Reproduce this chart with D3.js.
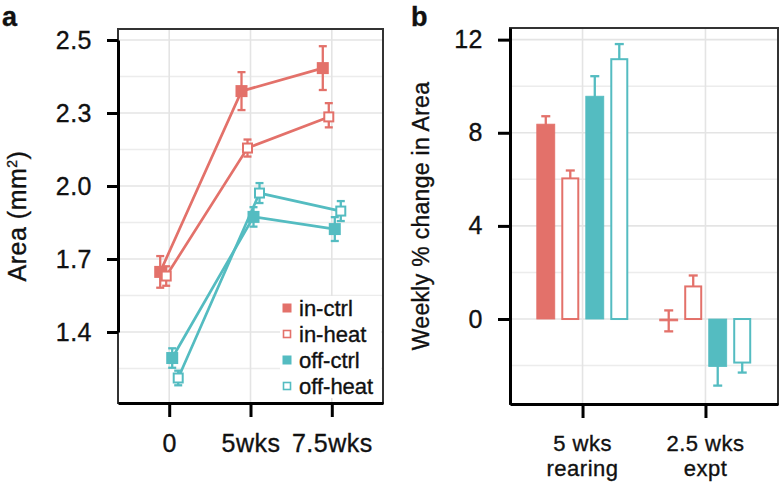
<!DOCTYPE html>
<html>
<head>
<meta charset="utf-8">
<script src="https://d3js.org/d3.v7.min.js"></script>
<style>
    body { margin: 0; background: #fff; }
    text { font-family: "Liberation Sans", Arial, sans-serif; fill: #111; stroke: #111; stroke-width: 0.35px; letter-spacing: 0.5px; }
</style>
</head>
<body>
<svg id="chart" width="783" height="485"></svg>
<script>
    // ---- panel a: mean area (mm2) with standard errors ----
    var timepoints = ["0", "5wks", "7.5wks"];
    var groups = ["in-ctrl", "in-heat", "off-ctrl", "off-heat"];
    var areaInCtrl   = [1.647, 2.360, 2.423];
    var areaInHeat   = [1.630, 2.156, 2.284];
    var areaOffCtrl  = [1.293, 1.873, 1.823];
    var areaOffHeat  = [1.211, 1.971, 1.897];
    var seInCtrl     = [0.065, 0.052, 0.060];
    var seInHeat     = [0.040, 0.035, 0.043];
    var seOffCtrl    = [0.040, 0.040, 0.049];
    var seOffHeat    = [0.030, 0.041, 0.041];
    var areaTicks = [1.4, 1.7, 2.0, 2.3, 2.5];

    // ---- panel b: weekly % change in area ----
    var periods = [["5 wks", "rearing"], ["2.5 wks", "expt"]];
    var changeInCtrl  = [8.37, -0.08];
    var changeInHeat  = [6.04, 1.40];
    var changeOffCtrl = [9.57, -2.04];
    var changeOffHeat = [11.16, -1.87];
    var changeSeInCtrl  = [0.34, 0.45];
    var changeSeInHeat  = [0.34, 0.47];
    var changeSeOffCtrl = [0.86, 0.82];
    var changeSeOffHeat = [0.65, 0.43];
    var changeTicks = [0, 4, 8, 12];

    var red = "#e3716a", teal = "#54bcc1";
    var groupColor = [red, red, teal, teal];
    var groupFilled = [true, false, true, false];

    var svg = d3.select("#chart");
    svg.append("rect").attr("width", 783).attr("height", 485).attr("fill", "#fff");

    // ============ panel a ============
    var a = {left: 118, right: 383, top: 29, bottom: 403};
    var xa = d3.scalePoint().domain(timepoints).range([a.left, a.right]).padding(0.63);
    // tick labels sit at equal spacing on the original axis
    var ya = d3.scaleLinear().domain(areaTicks)
        .range(areaTicks.map(function(d, i) { return 332 - i * 73; }));
    var dodgeA = [-9, -3, 3, 9];

    var ga = svg.append("g");
    // grid
    var minorA = [];
    for (var i = 0; i < areaTicks.length - 1; i++) minorA.push((ya(areaTicks[i]) + ya(areaTicks[i + 1])) / 2);
    minorA.push(ya(areaTicks[0]) + 36.5);
    ga.selectAll(".gmin").data(minorA).enter().append("line")
        .attr("x1", a.left).attr("x2", a.right)
        .attr("y1", function(d) { return d; }).attr("y2", function(d) { return d; })
        .attr("stroke", "#ececec").attr("stroke-width", 1.5);
    ga.selectAll(".gmaj").data(areaTicks).enter().append("line")
        .attr("x1", a.left).attr("x2", a.right)
        .attr("y1", function(d) { return ya(d); }).attr("y2", function(d) { return ya(d); })
        .attr("stroke", "#e4e4e4").attr("stroke-width", 1.6);
    ga.selectAll(".gx").data(timepoints).enter().append("line")
        .attr("y1", a.top).attr("y2", a.bottom)
        .attr("x1", function(d) { return xa(d); }).attr("x2", function(d) { return xa(d); })
        .attr("stroke", "#e4e4e4").attr("stroke-width", 1.6);

    var areaSeries = [
        {mean: areaInCtrl, se: seInCtrl},
        {mean: areaInHeat, se: seInHeat},
        {mean: areaOffCtrl, se: seOffCtrl},
        {mean: areaOffHeat, se: seOffHeat}
    ];

    areaSeries.forEach(function(s, gi) {
        var pts = timepoints.map(function(t, ti) {
            return {x: xa(t) + dodgeA[gi], m: s.mean[ti], se: s.se[ti]};
        });
        ga.append("path")
            .attr("d", d3.line().x(function(d) { return d.x; }).y(function(d) { return ya(d.m); })(pts))
            .attr("fill", "none").attr("stroke", groupColor[gi]).attr("stroke-width", 2.7);
        s.pts = pts;
    });
    areaSeries.forEach(function(s, gi) {
        var eb = ga.selectAll(null).data(s.pts).enter().append("g").attr("stroke", groupColor[gi]).attr("stroke-width", 2.3);
        eb.append("line").attr("x1", function(d) { return d.x; }).attr("x2", function(d) { return d.x; })
            .attr("y1", function(d) { return ya(d.m - d.se); }).attr("y2", function(d) { return ya(d.m + d.se); });
        eb.append("line").attr("x1", function(d) { return d.x - 4; }).attr("x2", function(d) { return d.x + 4; })
            .attr("y1", function(d) { return ya(d.m + d.se); }).attr("y2", function(d) { return ya(d.m + d.se); });
        eb.append("line").attr("x1", function(d) { return d.x - 4; }).attr("x2", function(d) { return d.x + 4; })
            .attr("y1", function(d) { return ya(d.m - d.se); }).attr("y2", function(d) { return ya(d.m - d.se); });
        var sz = groupFilled[gi] ? 12 : 9;
        ga.selectAll(null).data(s.pts).enter().append("rect")
            .attr("x", function(d) { return d.x - sz / 2; })
            .attr("y", function(d) { return ya(d.m) - sz / 2; })
            .attr("width", sz).attr("height", sz)
            .attr("fill", groupFilled[gi] ? groupColor[gi] : "#fff")
            .attr("stroke", groupFilled[gi] ? "none" : groupColor[gi])
            .attr("stroke-width", 2);
    });

    // legend
    var leg = ga.append("g");
    leg.append("rect").attr("x", 280).attr("y", 296).attr("width", 101).attr("height", 102).attr("fill", "#fff");
    groups.forEach(function(g, gi) {
        var cy = 308 + gi * 26;
        leg.append("rect")
            .attr("x", groupFilled[gi] ? 282.5 : 283.5).attr("y", groupFilled[gi] ? cy - 4.5 : cy - 3.5)
            .attr("width", groupFilled[gi] ? 9 : 7).attr("height", groupFilled[gi] ? 9 : 7)
            .attr("fill", groupFilled[gi] ? groupColor[gi] : "#fff")
            .attr("stroke", groupFilled[gi] ? "none" : groupColor[gi]).attr("stroke-width", 1.6);
        leg.append("text").attr("x", 299).attr("y", cy + 8).attr("font-size", 22)
            .style("letter-spacing", "0px").text(g);
    });

    // frame + axes
    ga.append("rect").attr("x", a.left).attr("y", a.top).attr("width", a.right - a.left).attr("height", a.bottom - a.top)
        .attr("fill", "none").attr("stroke", "#333").attr("stroke-width", 2);
    var axLa = ga.append("g").attr("transform", "translate(" + a.left + ",0)")
        .call(d3.axisLeft(ya).tickValues(areaTicks).tickFormat(d3.format(".1f")).tickSize(11).tickPadding(15).tickSizeOuter(0));
    var axBa = ga.append("g").attr("transform", "translate(0," + a.bottom + ")")
        .call(d3.axisBottom(xa).tickSize(14).tickPadding(17).tickSizeOuter(0));
    [axLa, axBa].forEach(function(ax) {
        ax.select(".domain").attr("stroke", "#000").attr("stroke-width", 3);
        ax.selectAll(".tick line").attr("stroke", "#000").attr("stroke-width", 3);
        ax.selectAll(".tick text").attr("font-size", 25).attr("font-family", null).attr("fill", "#111");
    });
    ga.append("text").attr("transform", "translate(26," + (a.top + a.bottom) / 2 + ") rotate(-90)")
        .attr("text-anchor", "middle").attr("font-size", 25)
        .html('Area (mm<tspan dy="-9" font-size="14">2</tspan><tspan dy="9">)</tspan>');
    ga.append("text").attr("x", 2).attr("y", 26).attr("font-size", 27).attr("font-weight", "bold").text("a");

    // ============ panel b ============
    var b = {left: 510, right: 778, top: 28, bottom: 404};
    var xb = d3.scalePoint().domain(periods.map(function(p) { return p.join(" "); })).range([b.left, b.right]).padding(0.59);
    var yb = d3.scaleLinear().domain([-3.65, 12.5]).range([b.bottom, b.top]);
    var slot = 24.5, barW = 18;
    var gb = svg.append("g");

    gb.selectAll(".gmin").data([-2, 2, 6, 10]).enter().append("line")
        .attr("x1", b.left).attr("x2", b.right)
        .attr("y1", function(d) { return yb(d); }).attr("y2", function(d) { return yb(d); })
        .attr("stroke", "#ececec").attr("stroke-width", 1.5);
    gb.selectAll(".gmaj").data(changeTicks).enter().append("line")
        .attr("x1", b.left).attr("x2", b.right)
        .attr("y1", function(d) { return yb(d); }).attr("y2", function(d) { return yb(d); })
        .attr("stroke", "#e4e4e4").attr("stroke-width", 1.6);
    gb.selectAll(".gx").data(xb.domain()).enter().append("line")
        .attr("y1", b.top).attr("y2", b.bottom)
        .attr("x1", function(d) { return xb(d); }).attr("x2", function(d) { return xb(d); })
        .attr("stroke", "#e4e4e4").attr("stroke-width", 1.6);

    var changeSeries = [
        {mean: changeInCtrl, se: changeSeInCtrl},
        {mean: changeInHeat, se: changeSeInHeat},
        {mean: changeOffCtrl, se: changeSeOffCtrl},
        {mean: changeOffHeat, se: changeSeOffHeat}
    ];
    changeSeries.forEach(function(s, gi) {
        var bars = xb.domain().map(function(p, pi) {
            return {x: xb(p) + (gi - 1.5) * slot, m: s.mean[pi], se: s.se[pi]};
        });
        var eb = gb.selectAll(null).data(bars).enter().append("g").attr("stroke", groupColor[gi]).attr("stroke-width", 2.3);
        eb.append("line").attr("x1", function(d) { return d.x; }).attr("x2", function(d) { return d.x; })
            .attr("y1", function(d) { return yb(d.m - d.se); }).attr("y2", function(d) { return yb(d.m + d.se); });
        eb.append("line").attr("x1", function(d) { return d.x - 4.5; }).attr("x2", function(d) { return d.x + 4.5; })
            .attr("y1", function(d) { return yb(d.m + d.se); }).attr("y2", function(d) { return yb(d.m + d.se); });
        eb.append("line").attr("x1", function(d) { return d.x - 4.5; }).attr("x2", function(d) { return d.x + 4.5; })
            .attr("y1", function(d) { return yb(d.m - d.se); }).attr("y2", function(d) { return yb(d.m - d.se); });
        var filled = groupFilled[gi];
        gb.selectAll(null).data(bars).enter().append("rect")
            .attr("x", function(d) { return d.x - barW / 2 + (filled ? 0 : 1); })
            .attr("y", function(d) { return Math.min(yb(d.m), yb(0)); })
            .attr("width", filled ? barW : barW - 2)
            .attr("height", function(d) { return Math.abs(yb(d.m) - yb(0)); })
            .attr("fill", filled ? groupColor[gi] : "#fff")
            .attr("stroke", groupColor[gi]).attr("stroke-width", filled ? 0.8 : 2);
    });

    gb.append("rect").attr("x", b.left).attr("y", b.top).attr("width", b.right - b.left).attr("height", b.bottom - b.top)
        .attr("fill", "none").attr("stroke", "#333").attr("stroke-width", 2);
    var axLb = gb.append("g").attr("transform", "translate(" + b.left + ",0)")
        .call(d3.axisLeft(yb).tickValues(changeTicks).tickSize(12).tickPadding(15).tickSizeOuter(0));
    var axBb = gb.append("g").attr("transform", "translate(0," + b.bottom + ")")
        .call(d3.axisBottom(xb).tickSize(14).tickPadding(18).tickSizeOuter(0).tickFormat(""));
    [axLb, axBb].forEach(function(ax) {
        ax.select(".domain").attr("stroke", "#000").attr("stroke-width", 3);
        ax.selectAll(".tick line").attr("stroke", "#000").attr("stroke-width", 3);
        ax.selectAll(".tick text").attr("font-size", 25).attr("font-family", null).attr("fill", "#111");
    });
    periods.forEach(function(p) {
        p.forEach(function(line, li) {
            gb.append("text").attr("text-anchor", "middle").attr("font-size", 22)
                .attr("x", xb(p.join(" "))).attr("y", 451 + li * 25).text(line);
        });
    });
    gb.append("text").attr("transform", "translate(429," + (b.top + b.bottom) / 2 + ") rotate(-90)")
        .attr("text-anchor", "middle").attr("font-size", 23).style("letter-spacing", "0.3px").text("Weekly % change in Area");
    gb.append("text").attr("x", 411).attr("y", 26).attr("font-size", 27).attr("font-weight", "bold").text("b");
</script>
</body>
</html>
